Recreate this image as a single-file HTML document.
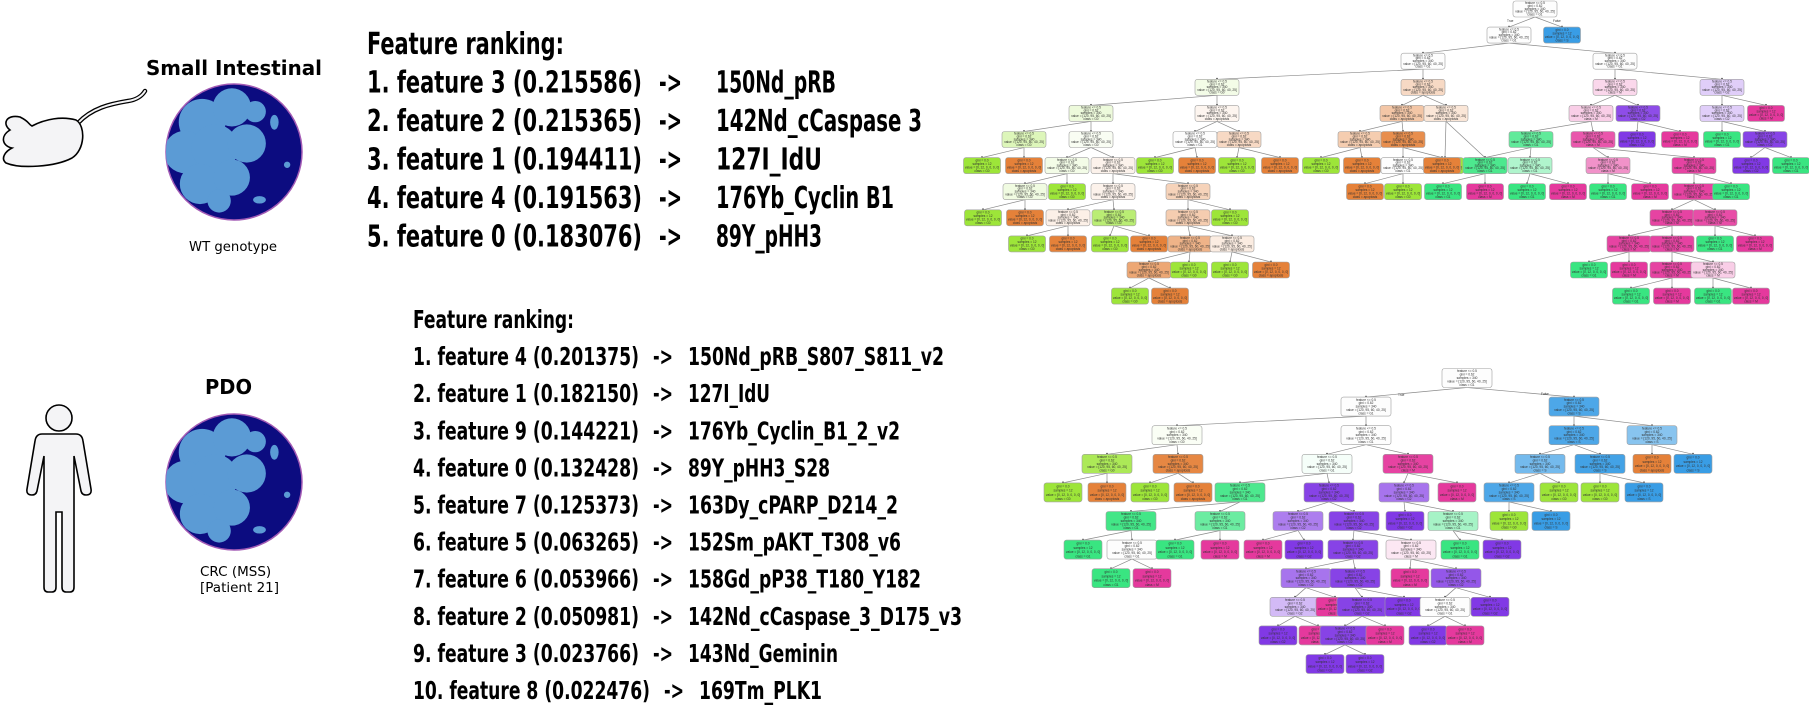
<!DOCTYPE html>
<html>
<head>
<meta charset="utf-8">
<style>
html,body{margin:0;padding:0;background:#fff;}
svg{display:block;}
.ft{font-family:"DejaVu Sans Condensed","DejaVu Sans","Liberation Sans",sans-serif;font-weight:bold;font-size:25px;fill:#000;}
.ft2{font-size:30px;}
.tt{font-family:"DejaVu Sans","Liberation Sans",sans-serif;font-weight:bold;font-size:20px;fill:#000;}
.st{font-family:"DejaVu Sans","Liberation Sans",sans-serif;font-size:13.5px;fill:#000;}
.nt{font-family:"Liberation Sans",sans-serif;font-size:3.2px;fill:#333;}
</style>
</head>
<body>
<svg id="fig" width="1809" height="712" viewBox="0 0 1809 712" xmlns="http://www.w3.org/2000/svg">
  <defs>
    <clipPath id="orgClip1"><circle cx="234" cy="152" r="68"/></clipPath>
    <clipPath id="orgClip2"><circle cx="234" cy="482" r="68"/></clipPath>
  </defs>

  <g>
    <path d="M78,123 C92,108 110,104 128,101 C136,100 142,96 145,91" fill="none" stroke="#000" stroke-width="4.5" stroke-linecap="round"/>
    <path d="M78,123 C92,108 110,104 128,101 C136,100 142,96 145,91" fill="none" stroke="#f4f4f6" stroke-width="2" stroke-linecap="round"/>
    <path d="M10,130 C2,124 6,114 20,117 C30,122 28,124 32,126 C45,119 62,116 76,120 C86,126 85,150 72,158 C55,167 20,169 6,163 C0,158 6,151 12,148 C2,146 0,136 10,130 Z" fill="#f4f4f6" stroke="#000" stroke-width="1.6"/>
  </g>

  <g fill="#f4f4f6" stroke="#000" stroke-width="1.6">
    <circle cx="59" cy="418" r="13"/>
    <path d="M42,434 L76,434 Q82,434 83,441 L91,489 Q92,495 86,495 Q82,495 81,491 L74,456 L74,587 Q74,592 70,592 L66,592 Q62,592 62,587 L62,512 L56,512 L56,587 Q56,592 52,592 L48,592 Q44,592 44,587 L44,456 L37,491 Q36,495 32,495 Q26,495 27,489 L35,441 Q36,434 42,434 Z"/>
  </g>

  <text class="tt" x="146" y="75" textLength="176" lengthAdjust="spacingAndGlyphs">Small Intestinal</text>
  <text class="st" x="189" y="251" textLength="88" lengthAdjust="spacingAndGlyphs">WT genotype</text>
  <text class="tt" x="205" y="394" textLength="47" lengthAdjust="spacingAndGlyphs">PDO</text>
  <text class="st" x="200" y="576">CRC (MSS)</text>
  <text class="st" x="200" y="592">[Patient 21]</text>

  <g id="organoids"></g>
  <g id="rank1"></g>
  <g id="rank2"></g>
  <g id="treeTop"></g>
  <g id="treeBot"></g>
</svg>

<script>
var rank1Left = ["1. feature 3 (0.215586)","2. feature 2 (0.215365)","3. feature 1 (0.194411)","4. feature 4 (0.191563)","5. feature 0 (0.183076)"];
var rank1Labels = ["150Nd_pRB","142Nd_cCaspase 3","127I_IdU","176Yb_Cyclin B1","89Y_pHH3"];
var rank1LabelEnd = [836,922,822,894,822];

var rank2Left = ["1. feature 4 (0.201375)","2. feature 1 (0.182150)","3. feature 9 (0.144221)","4. feature 0 (0.132428)","5. feature 7 (0.125373)","6. feature 5 (0.063265)","7. feature 6 (0.053966)","8. feature 2 (0.050981)","9. feature 3 (0.023766)","10. feature 8 (0.022476)"];
var rank2Labels = ["150Nd_pRB_S807_S811_v2","127I_IdU","176Yb_Cyclin_B1_2_v2","89Y_pHH3_S28","163Dy_cPARP_D214_2","152Sm_pAKT_T308_v6","158Gd_pP38_T180_Y182","142Nd_cCaspase_3_D175_v3","143Nd_Geminin","169Tm_PLK1"];
var rank2LabelEnd = [944,770,900,830,898,901,921,962,838,822];

// classes: 0 orange, 1 lime, 2 green, 3 blue, 4 purple, 5 pink, 6 white
var topLevel = [0,1,1,2,2,3,3,4,4,4,4,5,5,5,5,5,5,6,6,6,6,6,6,6,6,6,6,6,6,6,6,7,7,7,7,7,7,8,8,8,8,8,8,9,9,9,9,9,9,10,10,10,10,11,11,
  3,3,4,4,4,4,5,5,5,5,5,5,6,6,6,6,6,6,7,7,7,7,7,7,7,7,8,8,9,9,9,9,10,10,10,10,11,11,11,11];
var topX = [1535,1509,1562,1423,1615,1217,1423,1091,1217,1402,1446,1024,1091,1195,1239,1360,1403,1445,1485,982,1024,1067,1113,1155,1197,1237,1280,1321,1362,1403,1442,1025,1067,1113,1188,1365,1403,983,1025,1068,1114,1188,1230,1027,1068,1110,1149,1190,1232,1149,1189,1230,1271,1130,1170,
  1615,1722,1591,1638,1722,1766,1531,1593,1637,1680,1722,1765,1485,1530,1608,1694,1751,1791,1443,1485,1527,1568,1608,1650,1694,1731,1672,1715,1629,1672,1715,1755,1589,1629,1672,1713,1631,1672,1713,1751];
var topParent = [-1,0,0,1,1,3,3,5,5,6,6,7,7,8,8,9,9,10,10,11,11,12,12,13,13,14,14,15,15,16,16,21,21,22,22,29,29,31,31,33,33,34,34,39,39,40,40,41,41,47,47,48,48,49,49,
  4,4,55,55,56,56,57,57,58,58,59,59,61,61,62,62,66,66,67,67,68,68,69,69,70,70,79,79,81,81,82,82,83,83,84,84,89,89,90,90];
var topClass = [6,6,3,6,6,1,0,1,0,0,0,1,1,6,0,0,0,1,0,1,0,1,0,1,0,1,0,1,0,6,0,1,1,0,0,0,1,1,0,0,1,0,1,1,0,1,0,0,0,0,1,1,0,1,0,
  5,4,5,4,4,5,2,5,4,5,2,4,2,2,5,5,4,2,2,5,2,5,2,5,5,2,5,5,5,5,2,5,2,5,5,5,2,5,2,5];
var topShade = [1,1,1,1,1,.12,.3,.18,.08,.45,.2,.35,.06,1,.3,.4,.9,1,1,1,1,.12,.1,1,1,1,1,1,1,1,1,.15,1,.1,.35,1,1,1,1,.12,.7,.4,1,1,1,1,1,.6,.15,.7,1,1,1,1,1,
  .2,.25,.25,.9,.25,1,.8,.85,1,1,1,.95,.9,.4,.55,.95,1,1,1,1,1,1,1,1,.95,1,.95,.9,.95,.95,1,1,1,1,.95,.25,1,1,1,1];
var topLeaf = [0,0,1,0,0,0,0,0,0,0,0,0,0,0,0,0,0,1,1,1,1,0,0,1,1,1,1,1,1,0,1,0,1,0,0,1,1,1,1,0,0,0,1,1,1,1,1,0,0,0,1,1,1,1,1,
  0,0,0,0,0,1,0,0,1,1,1,0,0,0,0,0,1,1,1,1,1,1,1,1,0,1,0,0,0,0,1,1,1,1,0,0,1,1,1,1];

var botLevel = [0,1,1,2,2,2,2,3,3,3,3,3,3,3,3,4,4,4,4,4,4,4,4,4,4,4,4,5,5,5,5,5,5,5,5,6,6,6,6,6,6,6,6,6,6,7,7,7,7,7,7,8,8,8,8,8,8,9,9,9,9,9,9,10,10];
var botX = [1467,1366,1574,1177,1366,1574,1652,1107,1178,1327,1408,1540,1600,1652,1693,1063,1107,1150,1193,1240,1329,1404,1457,1509,1559,1600,1644,1131,1220,1298,1354,1405,1453,1509,1551,1083,1132,1175,1220,1263,1304,1353,1411,1460,1502,1111,1152,1306,1355,1410,1456,1295,1335,1362,1404,1445,1490,1278,1318,1345,1385,1428,1465,1325,1365];
var botParent = [-1,0,0,1,1,2,2,3,3,4,4,5,5,6,6,7,7,8,8,9,9,10,10,11,11,12,12,19,19,20,20,21,21,23,23,27,27,28,28,29,29,30,30,32,32,36,36,41,41,42,42,47,47,48,48,50,50,51,51,53,53,55,55,59,59];
var botClass = [6,6,3,1,6,3,3,1,0,2,5,3,3,0,3,1,0,1,0,2,4,4,5,3,1,1,3,2,2,4,4,4,2,1,3,2,6,2,5,5,4,4,5,2,4,2,5,4,4,5,4,4,5,4,4,6,4,4,5,4,5,4,5,4,4];
var botShade = [1,1,.9,.05,1,.9,.6,.85,.95,.05,.95,.7,.95,1,1,1,1,1,1,.9,.95,.7,1,.9,1,1,1,.95,.75,.65,.95,1,.45,1,1,1,1,1,1,1,1,.95,.12,1,1,1,1,.7,.95,1,.85,.35,1,.95,1,1,1,1,1,.95,1,1,1,1,1];
var botLeaf = [0,0,0,0,0,0,0,0,0,0,0,0,0,1,1,1,1,1,1,0,0,0,1,0,1,1,1,0,0,0,0,1,0,1,1,1,0,1,1,1,1,0,0,1,1,1,1,0,0,1,0,0,1,0,1,0,1,1,1,0,1,1,1,1,1];

var classColors = ["#e58139","#9de539","#39e581","#399de5","#8139e5","#e5399d","#ffffff"];
var classNames = ["apoptosis","G0","G1","S","G2","M","G1"];

var NS = "http://www.w3.org/2000/svg";
function mk(tag, attrs, parent){
  var e = document.createElementNS(NS, tag);
  for (var k in attrs) e.setAttribute(k, attrs[k]);
  if (parent) parent.appendChild(e);
  return e;
}
function mix(hex, a){
  var r=parseInt(hex.substr(1,2),16), g=parseInt(hex.substr(3,2),16), b=parseInt(hex.substr(5,2),16);
  r=Math.round(255+(r-255)*a); g=Math.round(255+(g-255)*a); b=Math.round(255+(b-255)*a);
  return "rgb("+r+","+g+","+b+")";
}

function drawRanking(groupId, cls, x0, header, headerEnd, headerY, pitch, lefts, leftEnds, arrowX, arrowW, labelX, labels, labelEnds){
  var g = document.getElementById(groupId);
  var h = mk("text", {"class":cls, x:x0, y:headerY, textLength:headerEnd-x0, lengthAdjust:"spacingAndGlyphs"}, g);
  h.textContent = header;
  
  
  for (var i=0;i<lefts.length;i++){
    var y = headerY + pitch*(i+1);
    var t1 = mk("text", {"class":cls, x:x0, y:y, textLength:leftEnds[i]-x0, lengthAdjust:"spacingAndGlyphs"}, g);
    t1.textContent = lefts[i];
    
    
    var t2 = mk("text", {"class":cls, x:arrowX[i], y:y, textLength:arrowW, lengthAdjust:"spacingAndGlyphs"}, g);
    t2.textContent = "->";
    
    
    var t3 = mk("text", {"class":cls, x:labelX[i], y:y, textLength:labelEnds[i]-labelX[i], lengthAdjust:"spacingAndGlyphs"}, g);
    t3.textContent = labels[i];
    
    
  }
}
drawRanking("rank1", "ft ft2", 367, "Feature ranking:", 564, 54, 38.5, rank1Left, [642,642,642,642,642], [659,659,659,659,659], 23, [716,716,716,716,716], rank1Labels, rank1LabelEnd);
drawRanking("rank2", "ft", 413, "Feature ranking:", 574, 328, 37.1, rank2Left, [639,639,639,639,639,639,639,639,639,650], [653,653,653,653,653,653,653,653,653,664], 20, [688,688,688,688,688,688,688,688,688,699], rank2Labels, rank2LabelEnd);

var blobs = [[-30,-28,22],[-2,-42,18],[-46,0,20],[-18,-4,22],[12,-8,18],[-32,30,19],[-2,24,17],[-14,46,11],[20,-38,10]];
function drawOrganoid(cx, cy, r, clipId){
  var g = mk("g", {}, document.getElementById("organoids"));
  
  
  mk("circle", {cx:cx, cy:cy, r:r, fill:"#0c0c80", stroke:"#a35bb5", "stroke-width":1.5}, g);
  var inner = mk("g", {"clip-path":"url(#"+clipId+")"}, g);
  var s = r/64;
  for (var i=0;i<blobs.length;i++){
    mk("circle", {cx:cx+blobs[i][0]*s, cy:cy+blobs[i][1]*s, r:blobs[i][2]*s, fill:"#5b9bd5"}, inner);
  }
  mk("ellipse", {cx:cx+38*s, cy:cy-28*s, rx:4*s, ry:7*s, fill:"#5b9bd5"}, inner);
  mk("ellipse", {cx:cx+24*s, cy:cy+45*s, rx:6*s, ry:3.5*s, fill:"#5b9bd5"}, inner);
  mk("ellipse", {cx:cx+50*s, cy:cy+12*s, rx:3*s, ry:3*s, fill:"#5b9bd5"}, inner);
}
drawOrganoid(234, 152, 68, "orgClip1");
drawOrganoid(234, 482, 68, "orgClip2");

function drawTree(groupId, levels, xs, parents, classes, shades, leaves, y0, pitch, h, wSplit, wLeaf){
  var g = document.getElementById(groupId);
  var eg = mk("g", {}, g), ng = mk("g", {}, g);
  function yc(i){ return y0 + levels[i]*pitch; }
  for (var i=0;i<xs.length;i++){
    var p = parents[i];
    if (p < 0) continue;
    var ln = mk("line", {x1:xs[p], y1:yc(p)+h/2, x2:xs[i], y2:yc(i)-h/2, stroke:"#8a8a8a", "stroke-width":0.7}, eg);
    
    
    mk("circle", {cx:xs[i], cy:yc(i)-h/2-0.6, r:0.9, fill:"#555"}, eg);
  }
  for (var j=0;j<xs.length;j++){
    var w = leaves[j] ? wLeaf : wSplit;
    var c = classes[j];
    var fill = c===6 ? "#fdfdfd" : mix(classColors[c], shades[j]);
    var r = mk("rect", {x:xs[j]-w/2, y:yc(j)-h/2, width:w, height:h, rx:2.5, fill:fill, stroke:"#a0a0a0", "stroke-width":0.6}, ng);
    
    
    var lines = leaves[j] ? ["gini = 0.0","samples = 12","value = [0, 12, 0, 0, 0, 0]","class = "+classNames[c]]
                          : ["feature <= 0.5","gini = 0.62","samples = 340","value = [120, 95, 60, 40, 25]","class = "+classNames[c]];
    var lh = (h-2)/lines.length;
    for (var k=0;k<lines.length;k++){
      var t = mk("text", {"class":"nt", x:xs[j], y:yc(j)-h/2+1+lh*(k+0.8), "text-anchor":"middle"}, ng);
      t.textContent = lines[k];
    }
  }
}
drawTree("treeTop", topLevel, topX, topParent, topClass, topShade, topLeaf, 9, 26.1, 16, 44, 37);
drawTree("treeBot", botLevel, botX, botParent, botClass, botShade, botLeaf, 378, 28.6, 19, 50, 38);

var tf = [["True",1507,22,"treeTop"],["False",1553,22,"treeTop"],["True",1398,396,"treeBot"],["False",1541,395,"treeBot"]];
for (var q=0;q<tf.length;q++){
  var tl = mk("text", {"class":"nt", x:tf[q][1], y:tf[q][2]}, document.getElementById(tf[q][3]));
  tl.textContent = tf[q][0];
  
  
}
</script>
</body>
</html>
